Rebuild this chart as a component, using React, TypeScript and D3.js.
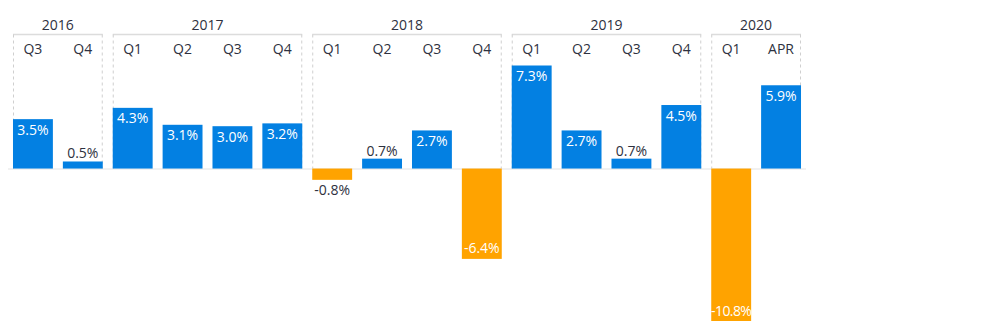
import React from "react";
import * as d3 from "d3";

const periodYears = ["2016","2016","2017","2017","2017","2017","2018","2018","2018","2018","2019","2019","2019","2019","2020","2020"];
const periodLabels = ["Q3","Q4","Q1","Q2","Q3","Q4","Q1","Q2","Q3","Q4","Q1","Q2","Q3","Q4","Q1","APR"];
const values = [3.5,0.5,4.3,3.1,3.0,3.2,-0.8,0.7,2.7,-6.4,7.3,2.7,0.7,4.5,-10.8,5.9];
const years = ["2016","2017","2018","2019","2020"];

const W = 1000, H = 332;
const BLUE = "#0380E2";
const ORANGE = "#FFA300";
const DARK = "#2E3140";
const FONT = "'Open Sans', Lato, sans-serif";

export default function App() {
  const idx = values.map((_, i) => String(i));
  const x = d3.scaleBand<string>().domain(idx).range([8, 806]).paddingInner(0.2).paddingOuter(0.1);
  const y = d3.scaleLinear().domain([-10.8, 7.3]).range([321, 65.5]);
  const y0 = y(0);
  const bw = x.bandwidth();
  const boxTop = 34.5;

  const groups = years.map((yr) => {
    const ids = periodYears.map((p, i) => (p === yr ? i : -1)).filter((i) => i >= 0);
    const x0 = x(String(ids[0]))!;
    const x1 = x(String(ids[ids.length - 1]))! + bw;
    return { yr, x0, x1 };
  });

  return (
    <svg width={W} height={H} style={{ position: "absolute", left: 0, top: 0, background: "#fff" }} fontFamily={FONT}>
      <line x1={8} x2={806} y1={y0 + 0.5} y2={y0 + 0.5} stroke="#ececec" strokeWidth={1.5} />
      {groups.map((g) => (
        <g key={g.yr}>
          <line x1={g.x0} x2={g.x1} y1={boxTop} y2={boxTop} stroke="#dcdcdc" strokeWidth={1.5} />
          <line x1={g.x0 + 0.5} x2={g.x0 + 0.5} y1={boxTop} y2={y0} stroke="#cfcfcf" strokeDasharray="3,3" />
          <line x1={g.x1 - 0.5} x2={g.x1 - 0.5} y1={boxTop} y2={y0} stroke="#cfcfcf" strokeDasharray="3,3" />
          <text x={(g.x0 + g.x1) / 2} y={24} textAnchor="middle" dominantBaseline="central" fontSize={14} fontWeight={500} fill={DARK}>
            {g.yr}
          </text>
        </g>
      ))}
      {periodLabels.map((q, i) => (
        <text key={"q" + i} x={x(String(i))! + bw / 2} y={48.5} textAnchor="middle" dominantBaseline="central" fontSize={14} fill={DARK}>
          {q}
        </text>
      ))}
      {values.map((v, i) => {
        const bx = x(String(i))!;
        const top = Math.min(y(v), y0);
        const h = Math.abs(y(v) - y0);
        const inside = Math.abs(v) >= 1;
        const fill = v >= 0 ? BLUE : ORANGE;
        let ly: number;
        if (v >= 0) ly = inside ? y(v) + 10 : y(v) - 8.5;
        else ly = inside ? y(v) - 11 : y(v) + 10;
        return (
          <g key={"b" + i}>
            <rect x={bx} y={top} width={bw} height={h} fill={fill} />
            <text x={bx + bw / 2} y={ly} textAnchor="middle" dominantBaseline="central" fontSize={14} fill={inside ? "#fff" : DARK} letterSpacing={Math.abs(v) >= 10 ? -0.6 : 0}>
              {v.toFixed(1) + "%"}
            </text>
          </g>
        );
      })}
    </svg>
  );
}
